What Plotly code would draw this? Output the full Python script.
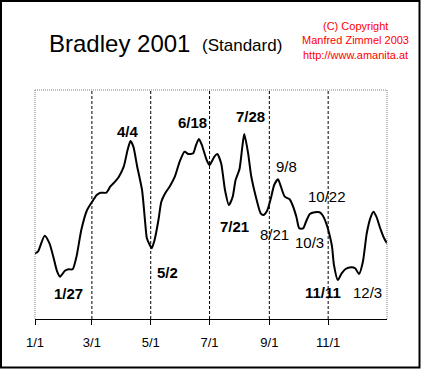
import datetime as dt
import plotly.graph_objects as go

# ---- data (day-of-year offsets from 2001-01-01, Bradley index values) ----
day_offsets = [0, 3, 10, 15, 19, 23, 26, 31, 35, 39, 43, 48, 54, 60, 64, 68, 74, 78, 83, 87,
               92, 96, 99, 102, 106, 111, 114, 116, 119, 121, 124, 128, 131, 135, 140, 145,
               150, 155, 159, 164, 167, 170, 173, 178, 181, 186, 189, 193, 197, 201, 205,
               208, 212, 215, 217, 221, 224, 229, 234, 237, 241, 245, 248, 252, 255, 259,
               264, 267, 271, 274, 278, 281, 285, 290, 295, 298, 302, 305, 308, 310, 314,
               318, 322, 328, 332, 336, 340, 344, 348, 351, 354, 358, 362, 365]
index_values = [65.7, 67.3, 83.3, 75.7, 62.3, 47.3, 42.3, 48.3, 49.7, 49.7, 62.3, 89, 109,
                118.3, 124, 126.3, 126.3, 132.3, 137.3, 142.3, 152.3, 169, 178, 172.3, 152.3,
                129, 99, 80.7, 74, 70.7, 79, 99, 117.3, 125.7, 133, 142.3, 157.3, 167.3, 165,
                165.7, 174, 180, 174, 159, 154, 162.3, 165, 155.7, 129, 114, 122.3, 139, 149.7,
                172.3, 185, 165.7, 144, 122.3, 105.7, 104, 109, 122.3, 134, 139.7, 132.3,
                122.3, 119.7, 114, 102.3, 90.7, 90.7, 97.3, 105, 106.7, 106.7, 104, 95.7,
                85.7, 72.3, 54, 39, 45.7, 50, 51.7, 50.7, 45, 57.3, 85.7, 101.7, 107.3, 102.3,
                90.7, 80.7, 75.7]

tick_dates = ["2001-01-01", "2001-03-01", "2001-05-01", "2001-07-01", "2001-09-01", "2001-11-01"]
tick_labels = ["1/1", "3/1", "5/1", "7/1", "9/1", "11/1"]
divider_dates = ["2001-03-01", "2001-05-01", "2001-07-01", "2001-09-01", "2001-11-01"]

label_texts = ["1/27", "4/4", "5/2", "6/18", "7/28", "7/21", "8/21", "9/8", "10/22", "10/3", "11/11", "12/3"]
label_days = [34.5, 96.8, 137.6, 163.2, 223.3, 206.7, 248.2, 260.3, 302.8, 284.5, 298.3, 345]
label_values = [25.7, 187.3, 46.3, 196.7, 203, 92.3, 85, 152.3, 123, 76.3, 26.3, 26.3]
label_bold = [True, True, True, True, True, True, False, False, False, False, True, False]

title_main = "Bradley 2001"
title_sub = "(Standard)"
copyright_lines = ["(C) Copyright", "Manfred Zimmel 2003", "http://www.amanita.at"]

start = dt.datetime(2001, 1, 1)
def to_date(d):
    return start + dt.timedelta(days=d)

xs = [to_date(d) for d in day_offsets]

FONT = "Arial, Liberation Sans, sans-serif"
W, H = 422, 369
L, R, T, B = 35, 35, 90, 50
pw, ph = W - L - R, H - T - B

def px_x(p):
    return (p - L) / pw

def px_y(p):
    return (H - B - p) / ph

fig = go.Figure()
fig.add_trace(go.Scatter(x=xs, y=index_values, mode="lines",
                         line=dict(color="black", width=2, shape="spline", smoothing=0.6),
                         hoverinfo="skip", showlegend=False))

shapes = []
for d in divider_dates:
    shapes.append(dict(type="line", xref="x", yref="paper", x0=d, x1=d, y0=0, y1=1,
                       line=dict(color="black", width=1, dash="3px,2px")))
# gray dotted frame (top, left, right)
gray = dict(color="#808080", width=1, dash="1px,1px")
shapes.append(dict(type="line", xref="paper", yref="paper", x0=0, x1=1, y0=1, y1=1, line=gray))
shapes.append(dict(type="line", xref="paper", yref="paper", x0=0, x1=0, y0=0, y1=1, line=gray))
shapes.append(dict(type="line", xref="paper", yref="paper", x0=1, x1=1, y0=0, y1=1, line=gray))
# outer border
shapes.append(dict(type="rect", xref="paper", yref="paper",
                   x0=px_x(1), x1=px_x(419.5), y0=px_y(367.5), y1=px_y(1),
                   line=dict(color="black", width=2), layer="above"))

annotations = []
for t, d, v, b in zip(label_texts, label_days, label_values, label_bold):
    annotations.append(dict(x=to_date(d), y=v, xref="x", yref="y", text=(f"<b>{t}</b>" if b else t),
                            showarrow=False, font=dict(family=FONT, size=15, color="black"),
                            xanchor="center", yanchor="middle"))
annotations.append(dict(x=px_x(119), y=px_y(44), xref="paper", yref="paper", text=title_main,
                        showarrow=False, font=dict(family=FONT, size=24, color="black"),
                        xanchor="center", yanchor="middle"))
annotations.append(dict(x=px_x(241.5), y=px_y(45.5), xref="paper", yref="paper", text=title_sub,
                        showarrow=False, font=dict(family=FONT, size=17, color="black"),
                        xanchor="center", yanchor="middle"))
for i, line in enumerate(copyright_lines):
    annotations.append(dict(x=px_x(355), y=px_y(25.5 + 14.5 * i), xref="paper", yref="paper",
                            text=line, showarrow=False,
                            font=dict(family=FONT, size=11, color="red"),
                            xanchor="center", yanchor="middle"))

fig.update_layout(
    width=W, height=H,
    margin=dict(l=L, r=R, t=T, b=B, pad=0),
    paper_bgcolor="white", plot_bgcolor="white",
    shapes=shapes, annotations=annotations,
    xaxis=dict(type="date", range=["2001-01-01", "2002-01-01"], tickmode="array",
               tickvals=tick_dates, ticktext=tick_labels, ticks="outside", ticklen=5,
               tickcolor="black", tickwidth=1, showgrid=False, zeroline=False,
               showline=True, linecolor="black", linewidth=1,
               tickfont=dict(family=FONT, size=13, color="black"), ticklabelstandoff=6,
               fixedrange=True),
    yaxis=dict(range=[0, 229], visible=False, showgrid=False, zeroline=False, fixedrange=True),
    showlegend=False,
)

fig.write_html("out.html", config={"displayModeBar": False},
               post_script="document.body.style.margin='0';document.body.style.overflow='hidden';")
